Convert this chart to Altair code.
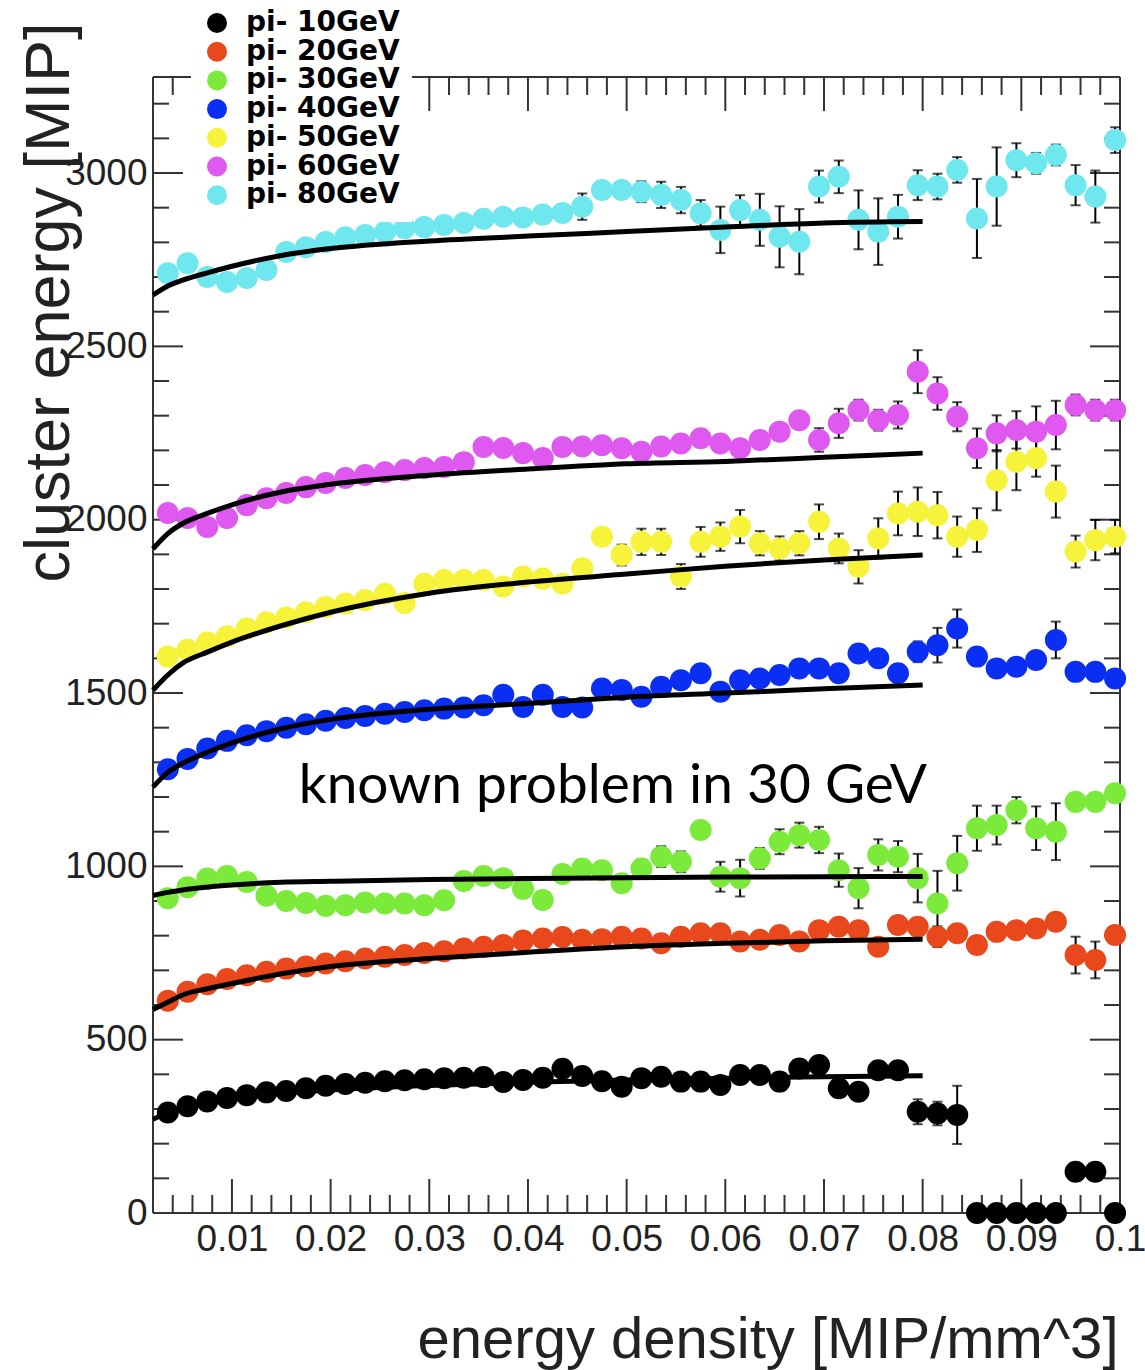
import altair as alt
import pandas as pd

# ---------------- data ----------------
energy_density = [0.0035, 0.0055, 0.0075, 0.0095, 0.0115, 0.0135, 0.0155, 0.0175, 0.0195, 0.0215,
                  0.0235, 0.0255, 0.0275, 0.0295, 0.0315, 0.0335, 0.0355, 0.0375, 0.0395, 0.0415,
                  0.0435, 0.0455, 0.0475, 0.0495, 0.0515, 0.0535, 0.0555, 0.0575, 0.0595, 0.0615,
                  0.0635, 0.0655, 0.0675, 0.0695, 0.0715, 0.0735, 0.0755, 0.0775, 0.0795, 0.0815,
                  0.0835, 0.0855, 0.0875, 0.0895, 0.0915, 0.0935, 0.0955, 0.0975, 0.0995]

series_labels = ["pi- 10GeV", "pi- 20GeV", "pi- 30GeV", "pi- 40GeV", "pi- 50GeV", "pi- 60GeV", "pi- 80GeV"]
series_colors = ["#000000", "#e8481c", "#7cea3a", "#0b2ff2", "#f7f23a", "#df58ef", "#6fe7ef"]

e10 = [290, 308, 322, 332, 340, 348, 352, 360, 367, 372, 376, 380, 383, 386, 389, 390, 392, 378, 384, 390,
       416, 395, 380, 364, 389, 393, 379, 379, 369, 398, 398, 379, 417, 427, 360, 350, 412, 412, 292, 287,
       283, 0, 0, 0, 0, 0, 119, 119, 0]
e20 = [612, 638, 660, 675, 686, 696, 705, 711, 720, 726, 734, 739, 744, 750, 755, 763, 768, 773, 786, 792,
       796, 788, 790, 797, 792, 778, 797, 807, 807, 783, 788, 802, 783, 816, 826, 816, 768, 831, 826, 797,
       807, 773, 811, 816, 821, 840, 744, 730, 802]
e30 = [908, 940, 965, 972, 955, 915, 900, 894, 886, 888, 896, 893, 893, 888, 902, 958, 972, 966, 935, 903,
       978, 994, 989, 951, 994, 1028, 1013, 1105, 970, 966, 1023, 1071, 1090, 1076, 989, 937, 1033, 1028, 966, 893,
       1009, 1110, 1119, 1162, 1110, 1100, 1186, 1186, 1211]
e40 = [1280, 1310, 1340, 1362, 1378, 1390, 1400, 1410, 1420, 1428, 1434, 1440, 1445, 1450, 1455, 1458, 1465, 1495, 1460, 1495,
       1460, 1458, 1513, 1509, 1489, 1518, 1537, 1557, 1504, 1537, 1542, 1552, 1571, 1571, 1557, 1614, 1600, 1557, 1619, 1638,
       1686, 1605, 1571, 1576, 1595, 1653, 1561, 1561, 1542]
e50 = [1605, 1625, 1646, 1664, 1686, 1704, 1718, 1733, 1748, 1758, 1768, 1786, 1760, 1815, 1826, 1826, 1826, 1807, 1836, 1830,
       1815, 1860, 1951, 1898, 1936, 1936, 1836, 1936, 1951, 1980, 1932, 1917, 1932, 1994, 1917, 1864, 1946, 2018, 2023, 2013,
       1951, 1970, 2114, 2167, 2177, 2081, 1908, 1941, 1951]
e60 = [2019, 2005, 1979, 2005, 2042, 2062, 2077, 2094, 2106, 2120, 2129, 2137, 2143, 2149, 2152, 2166, 2210, 2207, 2192, 2178,
       2210, 2211, 2215, 2206, 2196, 2211, 2220, 2235, 2220, 2206, 2230, 2254, 2287, 2230, 2278, 2316, 2287, 2302, 2427, 2364,
       2297, 2206, 2249, 2259, 2254, 2273, 2331, 2316, 2316]
e80 = [2711, 2740, 2700, 2686, 2697, 2720, 2772, 2786, 2801, 2815, 2821, 2830, 2841, 2844, 2850, 2856, 2868, 2874, 2872, 2880,
       2885, 2903, 2951, 2951, 2946, 2937, 2922, 2884, 2836, 2893, 2865, 2816, 2802, 2961, 2989, 2865, 2831, 2874, 2965, 2961,
       3009, 2869, 2961, 3037, 3028, 3052, 2965, 2932, 3095]

err10 = [10, 10, 10, 10, 10, 10, 10, 10, 10, 10, 10, 10, 10, 10, 10, 10, 10, 10, 10, 10,
         10, 10, 10, 10, 10, 10, 10, 10, 10, 10, 10, 10, 15, 15, 15, 15, 15, 15, 36, 34,
         84, 10, 10, 10, 10, 10, 15, 15, 10]
err20 = [10, 10, 10, 10, 10, 10, 10, 10, 10, 10, 10, 10, 10, 10, 10, 10, 10, 10, 10, 10,
         10, 10, 10, 10, 10, 10, 10, 10, 10, 10, 10, 10, 15, 15, 15, 15, 15, 15, 20, 30,
         20, 20, 15, 15, 15, 15, 53, 53, 20]
err30 = [10, 10, 10, 10, 10, 10, 10, 10, 10, 10, 10, 10, 10, 10, 10, 10, 10, 10, 10, 10,
         10, 20, 20, 25, 25, 30, 30, 20, 43, 53, 30, 36, 36, 38, 48, 58, 45, 45, 70, 94,
         79, 65, 56, 38, 63, 82, 20, 20, 20]
err40 = [10, 10, 10, 10, 10, 10, 10, 10, 10, 10, 10, 10, 10, 10, 10, 10, 10, 10, 10, 10,
         10, 12, 12, 12, 12, 15, 15, 15, 15, 15, 15, 15, 15, 15, 15, 20, 20, 25, 30, 50,
         55, 25, 20, 20, 20, 53, 20, 20, 20]
err50 = [10, 10, 10, 10, 10, 10, 10, 10, 10, 10, 10, 10, 10, 10, 10, 10, 10, 10, 10, 10,
         10, 10, 10, 30, 38, 38, 36, 43, 41, 48, 35, 35, 35, 50, 43, 48, 58, 63, 70, 67,
         58, 63, 87, 82, 53, 75, 46, 58, 48]
err60 = [10, 10, 10, 10, 10, 10, 10, 10, 10, 10, 10, 10, 10, 10, 10, 10, 10, 10, 10, 10,
         10, 10, 10, 10, 10, 10, 25, 20, 20, 20, 25, 25, 25, 34, 42, 30, 30, 39, 62, 47,
         42, 57, 52, 54, 73, 70, 30, 30, 30]
err80 = [10, 10, 10, 10, 10, 10, 10, 10, 10, 10, 10, 10, 10, 10, 10, 10, 10, 10, 10, 10,
         10, 38, 25, 25, 30, 38, 38, 38, 67, 43, 75, 88, 94, 46, 47, 85, 96, 63, 43, 37,
         37, 114, 113, 49, 30, 30, 58, 75, 37]

fit_x = [0.002, 0.0035, 0.005, 0.0075, 0.01, 0.015, 0.02, 0.03, 0.04, 0.05, 0.06, 0.07, 0.08]
fit10 = [270, 290, 303, 318, 330, 345, 355, 368, 377, 384, 389, 393, 396]
fit20 = [587, 608, 629, 647, 662, 690, 711, 734, 752, 768, 778, 785, 790]
fit30 = [916, 925, 932, 940, 946, 954, 957, 962, 965, 967, 969, 970, 971]
fit40 = [1229, 1271, 1297, 1329, 1356, 1397, 1424, 1453, 1470, 1488, 1500, 1512, 1523]
fit50 = [1508, 1552, 1586, 1618, 1647, 1694, 1733, 1788, 1820, 1843, 1866, 1884, 1898]
fit60 = [1916, 1960, 1989, 2018, 2043, 2080, 2102, 2128, 2146, 2161, 2168, 2180, 2192]
fit80 = [2648, 2674, 2691, 2712, 2731, 2762, 2782, 2804, 2818, 2831, 2844, 2856, 2860]

x_tick_labels = [0.01, 0.02, 0.03, 0.04, 0.05, 0.06, 0.07, 0.08, 0.09, 0.1]
y_tick_labels = [0, 500, 1000, 1500, 2000, 2500, 3000]

X_DOMAIN = [0.002, 0.1]
Y_DOMAIN = [0, 3277]

annotation_text = "known problem in 30 GeV"
annotation_x = 0.0486
annotation_y = 1183

# ---------------- tables ----------------
values = [e10, e20, e30, e40, e50, e60, e80]
errors = [err10, err20, err30, err40, err50, err60, err80]
fits = [fit10, fit20, fit30, fit40, fit50, fit60, fit80]

rows = []
for lab, vals, errs in zip(series_labels, values, errors):
    for xv, v, e in zip(energy_density, vals, errs):
        rows.append({"series": lab, "x": xv, "y": v, "lo": v - e, "hi": v + e})
pts = pd.DataFrame(rows)

frows = []
for lab, fv in zip(series_labels, fits):
    for xv, v in zip(fit_x, fv):
        frows.append({"series": lab, "x": xv, "y": v})
fdf = pd.DataFrame(frows)

x_major = [round(0.01 * i, 3) for i in range(1, 11)]
x_minor = [round(0.002 * i, 4) for i in range(2, 50) if i % 5 != 0]
y_major = [500 * i for i in range(0, 7)]
y_minor = [100 * i for i in range(1, 33) if i % 5 != 0]

W, H = 967, 1136
AX = "#333333"
FONT = "Liberation Sans"

xs = alt.Scale(domain=X_DOMAIN, nice=False, zero=False)
ys = alt.Scale(domain=Y_DOMAIN, nice=False, zero=False)

AXX = alt.Axis(values=x_tick_labels, format=".2~f", ticks=False, tickSize=0, domain=False,
               grid=False, labelFont=FONT, labelFontSize=37, labelColor="#222222",
               labelPadding=8, labelFlush=False, labelOverlap=False,
               title="energy density [MIP/mm^3]", titleFont=FONT, titleFontSize=58,
               titleFontWeight="normal", titleColor="#222222", titleX=965, titleY=144,
               titleAlign="right", titleBaseline="alphabetic", titleAngle=0)
AXY = alt.Axis(values=y_tick_labels, format="d", ticks=False, tickSize=0, domain=False,
               grid=False, labelFont=FONT, labelFontSize=37, labelColor="#222222",
               labelPadding=6, labelFlush=False, labelOverlap=False,
               title="cluster energy [MIP]", titleFont=FONT, titleFontSize=63,
               titleFontWeight="normal", titleColor="#222222", titleX=-85, titleY=225,
               titleAngle=270, titleAlign="center", titleBaseline="alphabetic")


def xenc(field="x"):
    return alt.X(f"{field}:Q", scale=xs, axis=AXX)


def yenc(field="y"):
    return alt.Y(f"{field}:Q", scale=ys, axis=AXY)


# error bars
err_bar = alt.Chart(pts).mark_rule(color="black", strokeWidth=2).encode(
    x=xenc(), y=yenc("lo"), y2="hi:Q")
cap_hi = alt.Chart(pts).mark_tick(color="black", orient="horizontal", size=10, thickness=2).encode(
    x=xenc(), y=yenc("hi"))
cap_lo = alt.Chart(pts).mark_tick(color="black", orient="horizontal", size=10, thickness=2).encode(
    x=xenc(), y=yenc("lo"))

points = alt.Chart(pts).mark_circle(size=484, opacity=1).encode(
    x=xenc(),
    y=yenc(),
    color=alt.Color("series:N", sort=series_labels,
                    scale=alt.Scale(domain=series_labels, range=series_colors),
                    legend=alt.Legend(orient="none", legendX=38, legendY=-80, fillColor="white",
                                      padding=12, symbolSize=400, symbolType="circle",
                                      symbolStrokeWidth=0, symbolOpacity=1, labelFont="DejaVu Sans",
                                      labelFontWeight="bold", labelFontSize=28, labelColor="black",
                                      rowPadding=0.7, labelOffset=15, title=None)),
)

fit_lines = alt.Chart(fdf).mark_line(color="black", strokeWidth=5, interpolate="monotone").encode(
    x=xenc(), y=yenc(), detail="series:N")

annot = alt.Chart(pd.DataFrame({"x": [annotation_x], "y": [annotation_y], "t": [annotation_text]})).mark_text(
    font="Lato", fontSize=55, color="black", align="center", baseline="alphabetic").encode(
    x=xenc(), y=yenc(), text="t:N")

# axis ticks (ROOT style, pointing inwards, on all four sides)
xmaj = pd.DataFrame({"x": x_major})
xmin = pd.DataFrame({"x": x_minor})
ymaj = pd.DataFrame({"y": y_major})
ymin = pd.DataFrame({"y": y_minor})


def xt(df, y0, y1):
    return alt.Chart(df).mark_rule(color=AX, strokeWidth=2).encode(
        x=xenc(), y=alt.value(y0), y2=alt.value(y1))


def yt(df, x0, x1):
    return alt.Chart(df).mark_rule(color=AX, strokeWidth=2).encode(
        y=yenc(), x=alt.value(x0), x2=alt.value(x1))


ticks = [
    xt(xmaj, H, H - 34), xt(xmin, H, H - 18),
    xt(xmaj, 0, 34), xt(xmin, 0, 18),
    yt(ymaj, 0, 30), yt(ymin, 0, 16),
    yt(ymaj, W, W - 30), yt(ymin, W, W - 16),
]

one = pd.DataFrame({"d": [0]})
frame = [
    alt.Chart(one).mark_rule(color=AX, strokeWidth=2).encode(x=alt.value(0), x2=alt.value(W), y=alt.value(0)),
    alt.Chart(one).mark_rule(color=AX, strokeWidth=2).encode(x=alt.value(0), x2=alt.value(W), y=alt.value(H)),
    alt.Chart(one).mark_rule(color=AX, strokeWidth=2).encode(x=alt.value(0), y=alt.value(0), y2=alt.value(H)),
    alt.Chart(one).mark_rule(color=AX, strokeWidth=2).encode(x=alt.value(W), y=alt.value(0), y2=alt.value(H)),
]

chart = alt.layer(
    *frame, *ticks, err_bar, cap_hi, cap_lo, points, fit_lines, annot
).properties(
    width=W, height=H,
    autosize=alt.AutoSizeParams(type="none"),
    padding={"left": 153, "top": 77, "right": 25, "bottom": 157},
    background="white",
).configure_view(strokeWidth=0)

chart.save("out.html", embed_options={"renderer": "svg", "actions": False})
